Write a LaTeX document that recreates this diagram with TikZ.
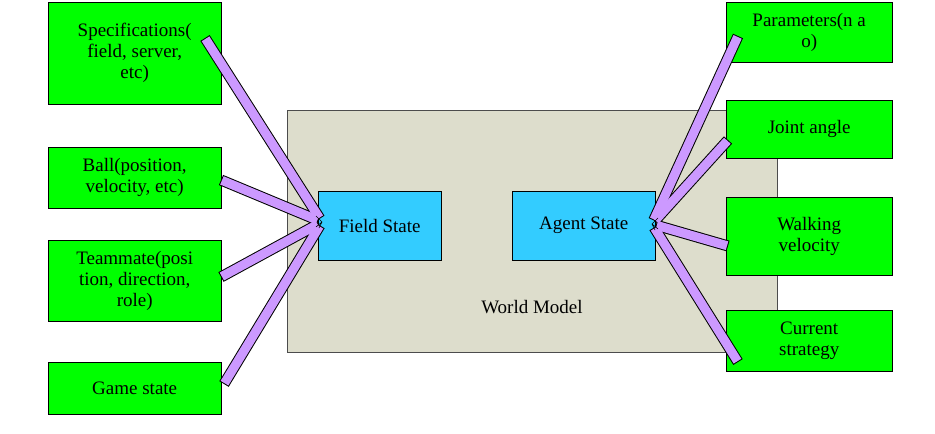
\documentclass[tikz,border=0pt]{standalone}
\usepackage{fontspec}
\setmainfont{Liberation Serif}
\begin{document}
\begin{tikzpicture}[x=1pt,y=-1pt,
 gbox/.style={draw=black,fill=green,minimum width=173pt,align=center,font=\fontsize{19}{21}\selectfont,inner sep=2pt},
 rbox/.style={draw=black,fill=green,minimum width=166pt,align=center,font=\fontsize{19}{21}\selectfont,inner sep=2pt},
 sbox/.style={draw=black,fill={rgb,255:red,51;green,204;blue,255},minimum height=69pt,font=\fontsize{19}{21}\selectfont},
 arr/.style={line width=11pt,draw=black},
 arrin/.style={line width=9pt,draw={rgb,255:red,204;green,153;blue,255}}]
\useasboundingbox (0,0) rectangle (935,434);
\node[draw=black!70,fill={rgb,255:red,221;green,221;blue,204},minimum width=490pt,minimum height=242pt,anchor=north west] (wm) at (287,110) {};
\node[font=\fontsize{19}{21}\selectfont] (wml) at (532,307) {World Model};
\node[sbox,minimum width=123pt,anchor=north west] (fs) at (318,191) {Field State};
\node[sbox,minimum width=143pt,anchor=north west] (as) at (512,191) {Agent State};
\node[gbox,minimum height=102pt,anchor=north west] (l1) at (48,2) {Specifications(\\field, server,\\etc)};
\node[gbox,minimum height=61pt,anchor=north west] (l2) at (48,147) {Ball(position,\\velocity, etc)};
\node[gbox,minimum height=81pt,anchor=north west] (l3) at (48,240) {Teammate(posi\\tion, direction,\\role)};
\node[gbox,minimum height=52pt,anchor=north west] (l4) at (48,362) {Game state};
\node[rbox,minimum height=60pt,anchor=north west] (r1) at (726,2) {Parameters(n a\\o)};
\node[rbox,minimum height=58pt,anchor=north west] (r2) at (726,100) {Joint angle};
\node[rbox,minimum height=78pt,anchor=north west] (r3) at (726,197) {Walking\\velocity};
\node[rbox,minimum height=61pt,anchor=north west] (r4) at (726,310) {Current\\strategy};
\coordinate (ft) at (322,222);
\coordinate (at) at (652,224);
\coordinate (s1) at (205,38);
\coordinate (s2) at (221,180);
\coordinate (s3) at (221,277);
\coordinate (s4) at (224,384);
\coordinate (t1) at (738,36);
\coordinate (t2) at (728,140);
\coordinate (t3) at (728,246);
\coordinate (t4) at (738,362);
\foreach \s in {s1,s2,s3,s4}{
 \draw[arr,shorten >=4pt] (\s) -- (ft);
}
\foreach \s in {t1,t2,t3,t4}{
 \draw[arr,shorten >=4pt] (\s) -- (at);
}
\foreach \s in {s1,s2,s3,s4}{
 \draw[arrin,shorten >=5pt,shorten <=1pt] (\s) -- (ft);
}
\foreach \s in {t1,t2,t3,t4}{
 \draw[arrin,shorten >=5pt,shorten <=1pt] (\s) -- (at);
}
\draw[black,line width=0.6pt] (ft) ++(-6,-6) -- (ft) -- ++(-6,5) (ft) -- ++(-3,6);
\draw[black,line width=0.6pt] (at) ++(6,-6) -- (at) -- ++(6,5) (at) -- ++(3,6);
\end{tikzpicture}
\end{document}
